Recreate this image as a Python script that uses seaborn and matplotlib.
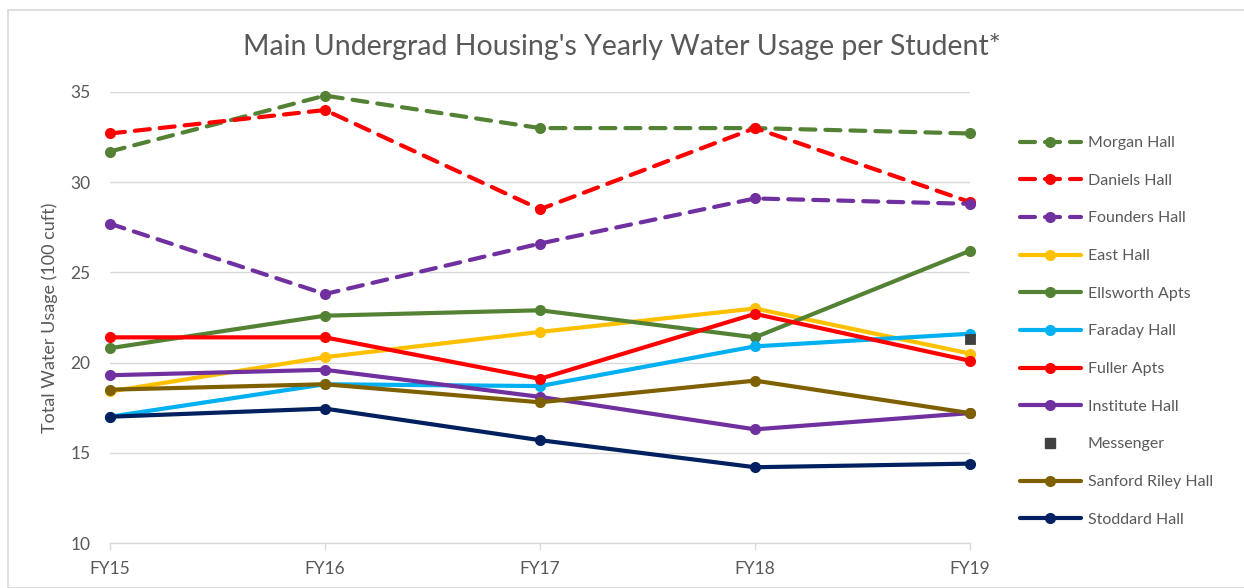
import matplotlib
matplotlib.use("Agg")
import matplotlib.pyplot as plt
import seaborn as sns
import pandas as pd
from matplotlib.lines import Line2D
from matplotlib.patches import Rectangle

years = ["FY15", "FY16", "FY17", "FY18", "FY19"]
halls = ["Morgan Hall", "Daniels Hall", "Founders Hall", "East Hall", "Ellsworth Apts",
         "Faraday Hall", "Fuller Apts", "Institute Hall", "Messenger", "Sanford Riley Hall",
         "Stoddard Hall"]
morgan = [31.7, 34.8, 33.0, 33.0, 32.7]
daniels = [32.7, 34.0, 28.5, 33.0, 28.9]
founders = [27.7, 23.8, 26.6, 29.1, 28.8]
east = [18.4, 20.3, 21.7, 23.0, 20.5]
ellsworth = [20.8, 22.6, 22.9, 21.4, 26.2]
faraday = [17.0, 18.8, 18.7, 20.9, 21.6]
fuller = [21.4, 21.4, 19.1, 22.7, 20.1]
institute = [19.3, 19.6, 18.1, 16.3, 17.2]
messenger = [None, None, None, None, 21.3]
sanford = [18.5, 18.8, 17.8, 19.0, 17.2]
stoddard = [17.0, 17.45, 15.7, 14.2, 14.4]
series = [morgan, daniels, founders, east, ellsworth, faraday, fuller, institute,
          messenger, sanford, stoddard]

colors = {"Morgan Hall": "#548235", "Daniels Hall": "#FF0000", "Founders Hall": "#7030A0",
          "East Hall": "#FFC000", "Ellsworth Apts": "#548235", "Faraday Hall": "#00B0F0",
          "Fuller Apts": "#FF0000", "Institute Hall": "#7030A0", "Messenger": "#404040",
          "Sanford Riley Hall": "#7F6000", "Stoddard Hall": "#002060"}
dashed = {"Morgan Hall", "Daniels Hall", "Founders Hall"}

rows = []
for h, vals in zip(halls, series):
    for y, v in zip(years, vals):
        if v is not None:
            rows.append({"hall": h, "year": y, "value": v, "xi": years.index(y)})
df = pd.DataFrame(rows)

sns.set_theme(style="white")
plt.rcParams["font.family"] = ["Lato", "DejaVu Sans"]

fig = plt.figure(figsize=(12.44, 5.88), dpi=100)
ax = fig.add_axes([110/1244, 1-543/588, (970-110)/1244, (543-92)/588])

lw = 3.0
handles = []
for h in halls:
    d = df[df.hall == h]
    c = colors[h]
    if h == "Messenger":
        sns.scatterplot(data=d, x="xi", y="value", ax=ax, color=c, marker="s", s=55,
                        edgecolor=c, zorder=5, clip_on=False, legend=False)
        handles.append(Line2D([], [], color=c, marker="s", linestyle="none", markersize=7))
        continue
    ls = (0, (3.6, 2.4)) if h in dashed else "-"
    sns.lineplot(data=d, x="xi", y="value", ax=ax, color=c, linewidth=lw, marker="o",
                 markersize=8, markeredgewidth=0, legend=False, zorder=3, clip_on=False,
                 sort=False)
    ax.lines[-1].set_linestyle(ls)
    ax.lines[-1].set_dash_capstyle("round")
    handles.append(Line2D([], [], color=c, linewidth=lw, linestyle=ls, marker="o",
                          markersize=8, markeredgewidth=0, dash_capstyle="round"))

ax.set_xlim(0, 4)
ax.set_ylim(10, 35)
ax.set_yticks([10, 15, 20, 25, 30, 35])
ax.set_xticks(range(5))
ax.set_xticklabels(years)
ax.grid(axis="y", color="#D9D9D9", linewidth=1)
ax.set_axisbelow(True)
for s in ["top", "right", "left"]:
    ax.spines[s].set_visible(False)
ax.spines["bottom"].set_color("#D9D9D9")
ax.spines["bottom"].set_linewidth(1)
ax.tick_params(axis="y", length=0, pad=14, labelsize=12.5, labelcolor="#595959")
ax.tick_params(axis="x", length=5, width=1, color="#D9D9D9", pad=8, labelsize=12.5,
               labelcolor="#595959", direction="out", bottom=True)
ax.set_xlabel("")
ax.set_ylabel("Total Water Usage (100 cuft)", fontsize=13, color="#595959", labelpad=9)

fig.text(0.5, 1-47/588, "Main Undergrad Housing's Yearly Water Usage per Student*",
         ha="center", va="center", fontsize=20.5, color="#595959", fontweight="normal")

fig.legend(handles, halls, loc="upper left", bbox_to_anchor=(1020/1244, 1-136/588),
           frameon=False, fontsize=11.5, handlelength=3.8, handletextpad=0.45,
           labelspacing=1.47, labelcolor="#595959", borderaxespad=0, borderpad=0)

fig.patches.append(Rectangle((8/1244, 0), 1.1, 1-10/588, transform=fig.transFigure,
                             fill=False, edgecolor="#D9D9D9", linewidth=1.2))

fig.savefig("out.png", dpi=100)
